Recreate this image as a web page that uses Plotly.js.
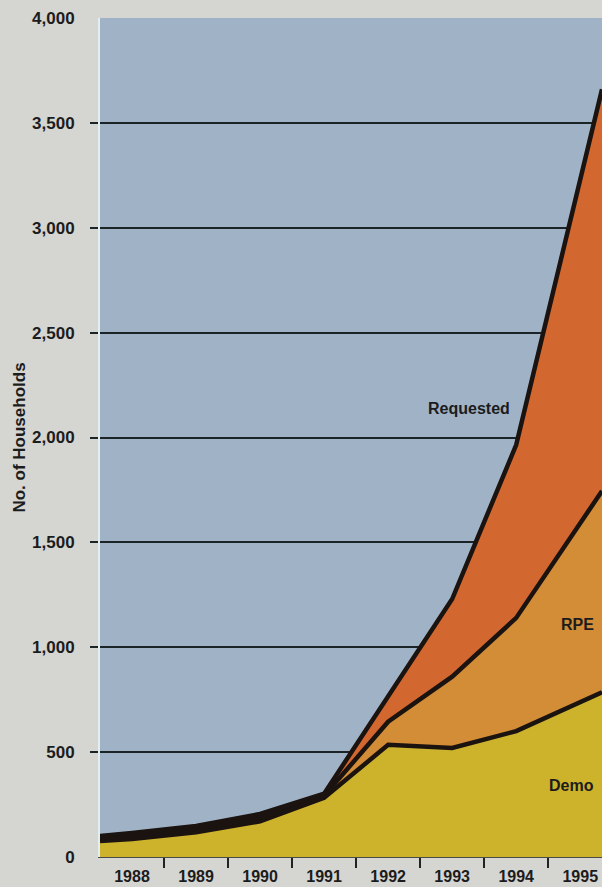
<!DOCTYPE html>
<html>
<head>
<meta charset="utf-8">
<script src="https://cdn.plot.ly/plotly-3.0.1.min.js"></script>
<style>
  html, body { margin: 0; padding: 0; background: #d5d5d2; }
  #chart { width: 602px; height: 887px; }
</style>
</head>
<body>
<div id="chart"></div>
<script>
// Vertex positions along the year axis (first/last are the plot edges)
const xPoints = [1987.5, 1988, 1989, 1990, 1991, 1992, 1993, 1994, 1995.34];
// Cumulative totals (no. of households)
const demo      = [76, 86, 118, 170, 282, 535, 520, 600, 785];
const rpeTotal  = [88, 100, 133, 187, 292, 645, 860, 1140, 1745];
const requested = [100, 114, 148, 205, 302, 770, 1230, 1965, 3660];

const yearLabels = [1988, 1989, 1990, 1991, 1992, 1993, 1994, 1995];
const yTicks = [0, 500, 1000, 1500, 2000, 2500, 3000, 3500, 4000];
const gridVals = [500, 1000, 1500, 2000, 2500, 3000, 3500];
const yearBounds = [1988.5, 1989.5, 1990.5, 1991.5, 1992.5, 1993.5, 1994.5];

const seriesNames = ['Demo', 'RPE', 'Requested'];
const labelPos = { Requested: [1993.27, 2140], RPE: [1994.95, 1110], Demo: [1994.86, 340] };

const lineColor = '#1b1310';
const font = { family: 'Liberation Sans, Arial, sans-serif', color: '#1c1c1c', size: 17, weight: 700 };

const traces = [
  { x: xPoints, y: demo, name: seriesNames[0], type: 'scatter', mode: 'lines',
    fill: 'tozeroy', fillcolor: '#cdb22c', line: { color: lineColor, width: 4.5 } },
  { x: xPoints, y: rpeTotal, name: seriesNames[1], type: 'scatter', mode: 'lines',
    fill: 'tonexty', fillcolor: '#d28d36', line: { color: lineColor, width: 4.5 } },
  { x: xPoints, y: requested, name: seriesNames[2], type: 'scatter', mode: 'lines',
    fill: 'tonexty', fillcolor: '#d2672f', line: { color: lineColor, width: 4.5 } }
];

const annotations = seriesNames.map(n => ({
  x: labelPos[n][0], y: labelPos[n][1], xref: 'x', yref: 'y', text: n, showarrow: false,
  font: { family: font.family, size: 16, color: '#1c1c1c', weight: 700 }
}));

const layout = {
  width: 602, height: 887,
  margin: { l: 100, r: 0, t: 18, b: 30, pad: 0 },
  paper_bgcolor: '#d5d5d2',
  plot_bgcolor: '#a0b3c6',
  showlegend: false,
  hovermode: false,
  font: font,
  xaxis: {
    range: [1987.5, 1995.34], fixedrange: true,
    tickmode: 'array', tickvals: yearLabels, ticktext: yearLabels.map(String),
    ticks: '', showgrid: false, zeroline: false,
    showline: true, linecolor: '#4a4a46', linewidth: 1,
    tickfont: { family: font.family, color: font.color, size: 16, weight: 700 }, ticklabelstandoff: 5,
    minor: { tickmode: 'array', tickvals: yearBounds, ticks: 'outside', ticklen: 10,
             tickwidth: 2, tickcolor: '#222', showgrid: false }
  },
  yaxis: {
    range: [0, 4000], fixedrange: true,
    tickmode: 'array', tickvals: yTicks, tickformat: ',d',
    ticks: '', showgrid: false, zeroline: false,
    showline: true, linecolor: '#e4eeee', linewidth: 2,
    tickfont: font, ticklabelstandoff: 20,
    minor: { tickmode: 'array', tickvals: gridVals, ticks: 'outside', ticklen: 8,
             tickwidth: 2, tickcolor: '#1a2326', showgrid: true, gridcolor: '#1a2326', gridwidth: 2 },
    title: { text: 'No. of Households', font: { family: font.family, size: 17, color: '#1c1c1c', weight: 700 }, standoff: 2 }
  },
  annotations: annotations
};

Plotly.newPlot('chart', traces, layout, { displayModeBar: false, staticPlot: true });
</script>
</body>
</html>
